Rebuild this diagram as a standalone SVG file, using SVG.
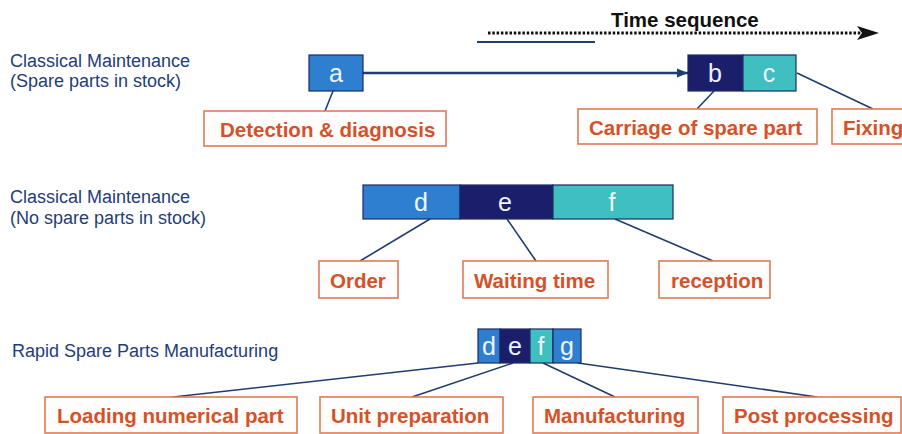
<svg xmlns="http://www.w3.org/2000/svg" width="902" height="434" viewBox="0 0 902 434">
<defs>
<style>
.title{font-family:"Liberation Sans",Arial,sans-serif;font-size:18px;fill:#1f3d7a}
.lbl{font-family:"Liberation Sans",Arial,sans-serif;font-size:20.5px;font-weight:bold;fill:#d4522a}
.lbox{fill:#fffdfb;stroke:#e07a58;stroke-width:1.6}
.let{font-family:"Liberation Sans",Arial,sans-serif;font-size:25px;fill:#eef4fb;text-anchor:middle}
.seg{stroke:#1c2a6a;stroke-width:1.2}
.mid{fill:#2f7fd0}
.dark{fill:#1b1f6b}
.teal{fill:#40bfc0}
.conn{stroke:#1f3d6e;stroke-width:1.6;fill:none}
.main{stroke:#1f3d6e;stroke-width:2.6;fill:none}
</style>
<marker id="ah" markerWidth="12" markerHeight="12" refX="11" refY="6" orient="auto" markerUnits="userSpaceOnUse">
<path d="M0,1.5 L11,6 L0,10.5 Z" fill="#1f3d6e"/>
</marker>
</defs>
<rect width="902" height="434" fill="#ffffff"/>

<g id="time-sequence">
<text x="611" y="27" font-family="Liberation Sans,Arial,sans-serif" font-size="20.5" font-weight="bold" fill="#111">Time sequence</text>
<line x1="488" y1="33" x2="862" y2="33" stroke="#111" stroke-width="3" stroke-dasharray="2.5,1.8"/>
<path d="M857,26 L879,33 L857,40 L862,33 Z" fill="#111"/>
<line x1="477" y1="42" x2="595" y2="42" stroke="#1f3d6e" stroke-width="2"/>
</g>

<g id="row1-title">
<text class="title" x="10" y="67">Classical Maintenance</text>
<text class="title" x="10" y="87">(Spare parts in stock)</text>
</g>
<g id="row2-title">
<text class="title" x="10" y="203">Classical Maintenance</text>
<text class="title" x="10" y="224">(No spare parts in stock)</text>
</g>
<g id="row3-title">
<text class="title" x="12" y="357">Rapid Spare Parts Manufacturing</text>
</g>

<g id="connectors">
<line class="main" x1="363" y1="73" x2="688" y2="73" marker-end="url(#ah)"/>
<line class="conn" x1="333" y1="91" x2="325" y2="111"/>
<line class="conn" x1="714" y1="91" x2="697" y2="109"/>
<line class="conn" x1="797" y1="73" x2="873" y2="109"/>
<line class="conn" x1="430" y1="219" x2="360" y2="261"/>
<line class="conn" x1="507" y1="219" x2="536" y2="261"/>
<line class="conn" x1="615" y1="219" x2="713" y2="261"/>
<line class="conn" x1="478" y1="363" x2="173" y2="397"/>
<line class="conn" x1="513" y1="363" x2="412" y2="397"/>
<line class="conn" x1="543" y1="363" x2="615" y2="397"/>
<line class="conn" x1="578" y1="363" x2="817" y2="397"/>
</g>

<g id="node-a">
<rect class="mid seg" x="309" y="55" width="54" height="36"/>
<text class="let" x="336" y="82">a</text>
</g>
<g id="node-bc">
<rect class="dark seg" x="688" y="55" width="55" height="36"/>
<rect class="teal seg" x="743" y="55" width="53" height="36"/>
<text class="let" x="715" y="82">b</text>
<text class="let" x="769" y="82">c</text>
</g>
<g id="node-def">
<rect class="mid seg" x="363" y="185" width="97" height="34"/>
<rect class="dark seg" x="460" y="185" width="93" height="34"/>
<rect class="teal seg" x="553" y="185" width="120" height="34"/>
<text class="let" x="421" y="211">d</text>
<text class="let" x="505" y="211">e</text>
<text class="let" x="612" y="211">f</text>
</g>
<g id="node-defg">
<rect class="mid seg" x="478" y="329" width="22" height="34"/>
<rect class="dark seg" x="500" y="329" width="30" height="34"/>
<rect class="teal seg" x="530" y="329" width="23" height="34"/>
<rect class="mid seg" x="553" y="329" width="28" height="34"/>
<text class="let" x="489" y="355">d</text>
<text class="let" x="515" y="355">e</text>
<text class="let" x="541" y="355">f</text>
<text class="let" x="567" y="355">g</text>
</g>

<g id="label-detection">
<rect class="lbox" x="204" y="111" width="242" height="35"/>
<text class="lbl" x="220" y="137">Detection &amp; diagnosis</text>
</g>
<g id="label-carriage">
<rect class="lbox" x="578" y="109" width="239" height="35"/>
<text class="lbl" x="589" y="135">Carriage of spare part</text>
</g>
<g id="label-fixing">
<rect class="lbox" x="832" y="109" width="80" height="35"/>
<text class="lbl" x="843" y="135">Fixing</text>
</g>
<g id="label-order">
<rect class="lbox" x="319" y="261" width="79" height="37"/>
<text class="lbl" x="330" y="288">Order</text>
</g>
<g id="label-waiting">
<rect class="lbox" x="463" y="261" width="145" height="37"/>
<text class="lbl" x="474" y="288">Waiting time</text>
</g>
<g id="label-reception">
<rect class="lbox" x="659" y="261" width="111" height="37"/>
<text class="lbl" x="671" y="288">reception</text>
</g>
<g id="label-loading">
<rect class="lbox" x="45" y="397" width="252" height="36"/>
<text class="lbl" x="57" y="423">Loading numerical part</text>
</g>
<g id="label-unit">
<rect class="lbox" x="320" y="397" width="183" height="36"/>
<text class="lbl" x="331" y="423">Unit preparation</text>
</g>
<g id="label-manufacturing">
<rect class="lbox" x="533" y="397" width="165" height="36"/>
<text class="lbl" x="544" y="423">Manufacturing</text>
</g>
<g id="label-post">
<rect class="lbox" x="723" y="397" width="178" height="36"/>
<text class="lbl" x="734" y="423">Post processing</text>
</g>
</svg>
